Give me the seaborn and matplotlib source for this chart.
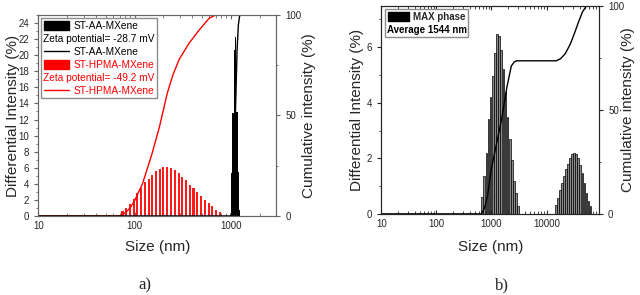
import matplotlib
matplotlib.use("Agg")
import matplotlib.pyplot as plt
import numpy as np
import seaborn as sns
from matplotlib.lines import Line2D
from matplotlib.patches import Patch
from matplotlib.ticker import FuncFormatter, MultipleLocator, NullFormatter

# ---- panel a: ST-AA-MXene / ST-HPMA-MXene size distributions ----
hpma_size = [75, 82, 89, 98, 107, 117, 128, 140, 153, 167, 183, 200, 219, 240,
             262, 287, 314, 344, 376, 411, 450, 492, 538, 589, 644, 705, 771]
hpma_int = [0.58, 1.0, 1.5, 2.15, 2.8, 3.5, 4.2, 4.6, 5.1, 5.6, 5.9, 6.1, 6.1, 6.0,
            5.7, 5.35, 4.9, 4.5, 3.9, 3.5, 2.95, 2.45, 2.0, 1.6, 1.2, 0.8, 0.45]
hpma_cum_size = [10, 70, 80, 90, 100, 121, 150, 181, 219, 250, 292, 370, 470, 600, 700, 3000]
hpma_cum = [0, 0, 1.5, 4, 7.5, 16, 30, 44, 61, 70, 78, 86, 92.5, 98.5, 100, 100]

aa_size = [1029, 1062, 1095, 1130, 1166, 1203, 1244]
aa_int = [5.4, 12.8, 20.6, 22.3, 12.9, 5.5, 0.7]
aa_cum_size = [10, 1000, 1029, 1062, 1095, 1130, 1166, 1203, 1244, 3000]
aa_cum = [0, 0, 2, 10, 30, 57, 82, 95, 100, 100]

# ---- panel b: MAX phase ----
max_size1 = [675, 738, 806, 881, 963, 1053, 1151, 1258, 1375, 1503, 1643, 1796,
             1963, 2146, 2345, 2563, 2802, 3063]
max_int1 = [0.6, 1.35, 2.2, 3.4, 4.2, 4.96, 5.8, 6.46, 6.4, 5.9, 5.2, 4.4,
            3.5, 2.7, 1.95, 1.2, 0.75, 0.3]
max_size2 = [14750, 16060, 17490, 19050, 20750, 22590, 24600, 26790, 29180, 31770,
             34600, 37680, 41030, 44690, 48660, 52990, 57710, 62850]
max_int2 = [0.33, 0.57, 0.87, 1.1, 1.35, 1.6, 1.8, 2.0, 2.17, 2.21,
            2.17, 2.0, 1.77, 1.47, 1.1, 0.75, 0.45, 0.27]
max_cum_size = [10, 658, 750, 850, 983, 1220, 1514, 1910, 2290, 2600, 2850, 15000,
                18000, 22000, 27000, 32500, 38000, 45000, 52000, 58000, 90000]
max_cum = [0, 0, 3, 9, 21, 33, 45, 61, 71, 73, 73.5, 73.5,
           74.5, 77, 81.5, 87, 92, 97, 99.5, 100, 100]

sns.set_style("ticks")
plt.rcParams["font.family"] = ["Liberation Sans", "DejaVu Sans"]


def log_bars(ax, sizes, heights, half, **kw):
    # bars centred on each size, symmetric in log space
    s = np.asarray(sizes, float)
    left = s * 10 ** -half
    ax.bar(left, heights, width=s * 10 ** half - left, align="edge", **kw)


def style_axes(ax, ax2, spine_col):
    ax.set_xscale("log")
    ax.xaxis.set_major_formatter(FuncFormatter(lambda v, _: f"{v:g}"))
    ax.xaxis.set_minor_formatter(NullFormatter())
    ax.tick_params(axis="x", which="both", direction="in", top=True, labelsize=7,
                   color=spine_col, pad=4)
    ax.tick_params(axis="x", which="major", length=3)
    ax.tick_params(axis="x", which="minor", length=2)
    ax.tick_params(axis="y", which="both", direction="out", labelsize=7, color=spine_col)
    ax.tick_params(axis="y", which="major", length=3)
    ax.tick_params(axis="y", which="minor", length=1.5)
    ax2.tick_params(axis="y", which="both", direction="out", labelsize=7, color=spine_col)
    ax2.tick_params(axis="y", which="major", length=3)
    ax2.tick_params(axis="y", which="minor", length=1.5)
    ax2.set_ylim(0, 100)
    ax2.yaxis.set_major_locator(MultipleLocator(50))
    ax2.yaxis.set_minor_locator(MultipleLocator(25))
    for a in (ax, ax2):
        for sp in a.spines.values():
            sp.set_visible(True)
            sp.set_color(spine_col)
            sp.set_linewidth(0.8)
    ax.set_xlabel("Size (nm)", fontsize=11)
    ax.set_ylabel("Differential Intensity (%)", fontsize=11)
    ax2.set_ylabel("Cumulative intensity (%)", fontsize=11)


fig = plt.figure(figsize=(6.4, 2.95), dpi=100)

# panel a
ax_a = fig.add_axes([0.060, 0.268, 0.372, 0.681])
ax_a2 = ax_a.twinx()
ax_a.set_xscale("log")
log_bars(ax_a, hpma_size, hpma_int, 0.0105, color="#ff1a1a", linewidth=0)
log_bars(ax_a, aa_size, aa_int, 0.0072, color="black", linewidth=0)
sns.lineplot(x=hpma_cum_size, y=hpma_cum, ax=ax_a2, color="red", lw=1)
sns.lineplot(x=aa_cum_size, y=aa_cum, ax=ax_a2, color="black", lw=1)
ax_a.set_xlim(10, 3000)
ax_a.set_ylim(0, 25)
ax_a.yaxis.set_major_locator(MultipleLocator(2))
ax_a.yaxis.set_minor_locator(MultipleLocator(1))
style_axes(ax_a, ax_a2, "0.4")
ax_a.yaxis.set_label_coords(-0.078, 0.5)
ax_a2.yaxis.set_label_coords(1.106, 0.5)
ax_a.xaxis.set_label_coords(0.5, -0.12)

# panel b
ax_b = fig.add_axes([0.596, 0.275, 0.340, 0.706])
ax_b2 = ax_b.twinx()
ax_b.set_xscale("log")
log_bars(ax_b, max_size1, max_int1, 0.0150, color="#8a8a8a", edgecolor="black", linewidth=0.5)
log_bars(ax_b, max_size2, max_int2, 0.0145, color="#8a8a8a", edgecolor="black", linewidth=0.5)
sns.lineplot(x=max_cum_size, y=max_cum, ax=ax_b2, color="black", lw=1)
ax_b.set_xlim(10, 90000)
ax_b.set_ylim(0, 7.5)
ax_b.yaxis.set_major_locator(MultipleLocator(2))
ax_b.yaxis.set_minor_locator(MultipleLocator(1))
style_axes(ax_b, ax_b2, "0.15")
ax_b.yaxis.set_label_coords(-0.078, 0.5)
ax_b2.yaxis.set_label_coords(1.103, 0.5)
ax_b.xaxis.set_label_coords(0.5, -0.125)

# legends: zeta / average rows carry no handle, so their text is placed afterwards
blank = Line2D([], [], color="none")
leg_a = ax_a2.legend(
    [Patch(color="black"), blank, Line2D([], [], color="black", lw=1),
     Patch(color="red"), blank, Line2D([], [], color="red", lw=1)],
    ["ST-AA-MXene", " ", "ST-AA-MXene", "ST-HPMA-MXene", " ", "ST-HPMA-MXene"],
    loc="upper left", fontsize=7.3, handlelength=2.5, handleheight=1.0,
    handletextpad=0.4, labelspacing=0.3, borderpad=0.25, borderaxespad=0.3,
    fancybox=False, edgecolor="0.55", framealpha=1)
for t, c in zip(leg_a.get_texts(), ["black"] * 3 + ["red"] * 3):
    t.set_color(c)

leg_b = ax_b2.legend(
    [Patch(color="black"), blank], ["MAX phase", " "],
    loc="upper left", prop={"size": 7, "weight": "bold"}, handlelength=2.2,
    handleheight=1.0, handletextpad=0.4, labelspacing=0.3, borderpad=0.25,
    borderaxespad=0.4, fancybox=False, edgecolor="0.55", framealpha=1)

fig.canvas.draw()
inv = fig.transFigure.inverted()


def row_text(leg, idx, s, size, **kw):
    frame = leg.get_frame().get_window_extent()
    tb = leg.get_texts()[idx].get_window_extent()
    x, y = inv.transform((frame.x0 + 2, (tb.y0 + tb.y1) / 2))
    fig.text(x, y, s, va="center", ha="left", fontsize=size, zorder=10, **kw)


row_text(leg_a, 1, "Zeta potential= -28.7 mV", 7.3, color="black")
row_text(leg_a, 4, "Zeta potential= -49.2 mV", 7.3, color="red")
row_text(leg_b, 1, "Average 1544 nm", 7, color="black", fontweight="bold")

fig.text(0.227, 0.034, "a)", family=["Liberation Serif", "DejaVu Serif"],
         fontsize=12, ha="center", va="center")
fig.text(0.784, 0.034, "b)", family=["Liberation Serif", "DejaVu Serif"],
         fontsize=12, ha="center", va="center")

fig.savefig("out.png", dpi=100)
